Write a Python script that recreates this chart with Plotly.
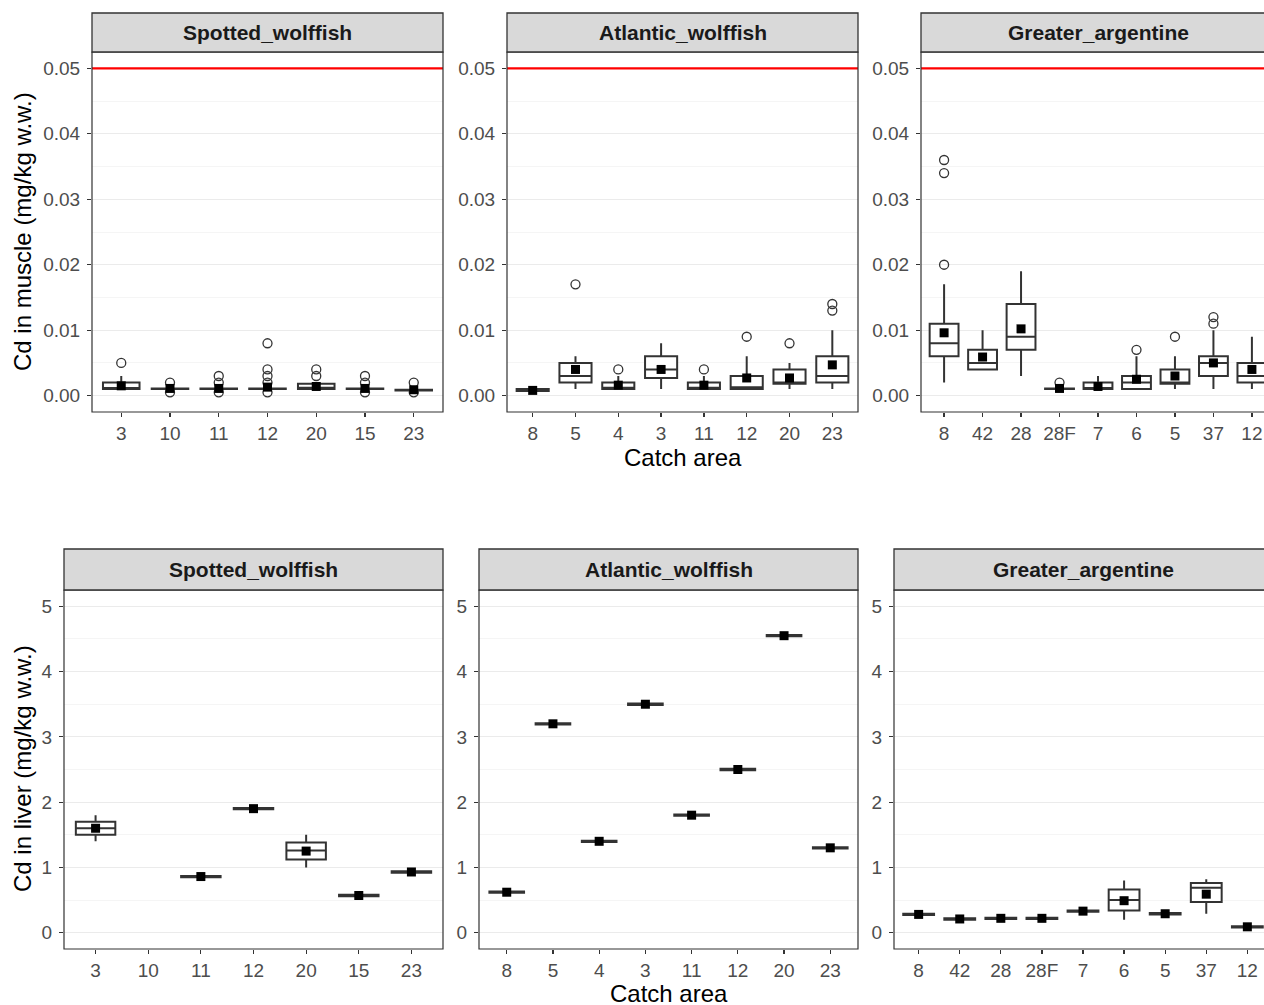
import plotly.graph_objects as go

# ---------------- DATA ----------------
SPECIES = ["Spotted_wolffish", "Atlantic_wolffish", "Greater_argentine"]

# Muscle: Spotted wolffish
SW_M_AREA = ["3", "10", "11", "12", "20", "15", "23"]
SW_M_Q1 = [0.001, 0.001, 0.001, 0.001, 0.001, 0.001, 0.0008]
SW_M_MED = [0.001, 0.001, 0.001, 0.001, 0.0012, 0.001, 0.0008]
SW_M_Q3 = [0.002, 0.0011, 0.0011, 0.0011, 0.0018, 0.0011, 0.0009]
SW_M_LO = [0.001, 0.001, 0.001, 0.001, 0.001, 0.001, 0.0008]
SW_M_HI = [0.003, 0.0011, 0.0011, 0.0011, 0.002, 0.0011, 0.0009]
SW_M_MEAN = [0.0015, 0.0011, 0.0011, 0.0013, 0.0014, 0.0011, 0.0009]
SW_M_OUT = [[0.005], [0.002, 0.0005], [0.003, 0.002, 0.0005],
            [0.008, 0.004, 0.003, 0.002, 0.0005], [0.004, 0.003],
            [0.003, 0.002, 0.0005], [0.002, 0.0005]]

# Muscle: Atlantic wolffish
AW_M_AREA = ["8", "5", "4", "3", "11", "12", "20", "23"]
AW_M_Q1 = [0.0007, 0.002, 0.001, 0.0027, 0.001, 0.001, 0.0018, 0.002]
AW_M_MED = [0.0008, 0.003, 0.0012, 0.004, 0.0012, 0.0013, 0.002, 0.003]
AW_M_Q3 = [0.001, 0.005, 0.002, 0.006, 0.002, 0.003, 0.004, 0.006]
AW_M_LO = [0.0007, 0.001, 0.001, 0.001, 0.001, 0.001, 0.001, 0.001]
AW_M_HI = [0.001, 0.006, 0.003, 0.008, 0.003, 0.006, 0.005, 0.010]
AW_M_MEAN = [0.0008, 0.004, 0.0016, 0.004, 0.0016, 0.0027, 0.0027, 0.0047]
AW_M_OUT = [[], [0.017], [0.004], [], [0.004], [0.009], [0.008], [0.014, 0.013]]

# Muscle: Greater argentine
GA_M_AREA = ["8", "42", "28", "28F", "7", "6", "5", "37", "12"]
GA_M_Q1 = [0.006, 0.004, 0.007, 0.001, 0.001, 0.001, 0.0018, 0.003, 0.002]
GA_M_MED = [0.008, 0.005, 0.009, 0.001, 0.001, 0.002, 0.002, 0.005, 0.003]
GA_M_Q3 = [0.011, 0.007, 0.014, 0.0011, 0.002, 0.003, 0.004, 0.006, 0.005]
GA_M_LO = [0.002, 0.004, 0.003, 0.001, 0.001, 0.001, 0.001, 0.001, 0.001]
GA_M_HI = [0.017, 0.010, 0.019, 0.0011, 0.003, 0.006, 0.006, 0.010, 0.009]
GA_M_MEAN = [0.0096, 0.0059, 0.0102, 0.0011, 0.0014, 0.0025, 0.003, 0.005, 0.004]
GA_M_OUT = [[0.036, 0.034, 0.020], [], [], [0.002], [], [0.007], [0.009],
            [0.012, 0.011], []]

# Liver: Spotted wolffish (no liver data for area 10)
SW_L_AREA = ["3", "10", "11", "12", "20", "15", "23"]
SW_L_Q1 = [1.5, None, 0.85, 1.89, 1.12, 0.56, 0.92]
SW_L_MED = [1.6, None, 0.86, 1.90, 1.26, 0.57, 0.93]
SW_L_Q3 = [1.7, None, 0.87, 1.91, 1.38, 0.58, 0.94]
SW_L_LO = [1.4, None, 0.85, 1.89, 1.0, 0.56, 0.92]
SW_L_HI = [1.8, None, 0.87, 1.91, 1.5, 0.58, 0.94]
SW_L_MEAN = [1.6, None, 0.86, 1.90, 1.25, 0.57, 0.93]

# Liver: Atlantic wolffish
AW_L_AREA = ["8", "5", "4", "3", "11", "12", "20", "23"]
AW_L_Q1 = [0.61, 3.19, 1.39, 3.49, 1.79, 2.49, 4.54, 1.29]
AW_L_MED = [0.62, 3.20, 1.40, 3.50, 1.80, 2.50, 4.55, 1.30]
AW_L_Q3 = [0.63, 3.21, 1.41, 3.51, 1.81, 2.51, 4.56, 1.31]
AW_L_LO = [0.61, 3.19, 1.39, 3.49, 1.79, 2.49, 4.54, 1.29]
AW_L_HI = [0.63, 3.21, 1.41, 3.51, 1.81, 2.51, 4.56, 1.31]
AW_L_MEAN = [0.62, 3.20, 1.40, 3.50, 1.80, 2.50, 4.55, 1.30]

# Liver: Greater argentine
GA_L_AREA = ["8", "42", "28", "28F", "7", "6", "5", "37", "12"]
GA_L_Q1 = [0.27, 0.20, 0.21, 0.21, 0.32, 0.34, 0.28, 0.47, 0.08]
GA_L_MED = [0.28, 0.21, 0.22, 0.22, 0.33, 0.50, 0.29, 0.69, 0.09]
GA_L_Q3 = [0.29, 0.22, 0.23, 0.23, 0.34, 0.66, 0.30, 0.76, 0.10]
GA_L_LO = [0.27, 0.20, 0.21, 0.21, 0.32, 0.20, 0.28, 0.29, 0.08]
GA_L_HI = [0.29, 0.22, 0.23, 0.23, 0.34, 0.80, 0.30, 0.82, 0.10]
GA_L_MEAN = [0.28, 0.21, 0.22, 0.22, 0.33, 0.49, 0.29, 0.59, 0.09]

MUSCLE_LIMIT = 0.05
Y_TITLE_MUSCLE = "Cd in muscle (mg/kg w.w.)"
Y_TITLE_LIVER = "Cd in liver (mg/kg w.w.)"
X_TITLE = "Catch area"

# ---------------- LAYOUT GEOMETRY (screen pixels) ----------------
W, H = 1264, 1005
FONT = "Liberation Sans, Arial, sans-serif"
DARK = "#333333"
TICKC = "#4D4D4D"


def px(x):
    return x / W


def py(y):
    return 1 - y / H


# panel: (left, right (full, may exceed view), top, bottom) in screen px
PANELS = [
    (92, 443, 52, 412), (507, 858, 52, 412), (921, 1275, 52, 412),
    (64, 443, 590, 949), (479, 858, 590, 949), (894, 1272, 590, 949),
]
STRIP_TOP = [13, 13, 13, 549, 549, 549]

panel_data = [
    (SW_M_AREA, SW_M_Q1, SW_M_MED, SW_M_Q3, SW_M_LO, SW_M_HI, SW_M_MEAN, SW_M_OUT),
    (AW_M_AREA, AW_M_Q1, AW_M_MED, AW_M_Q3, AW_M_LO, AW_M_HI, AW_M_MEAN, AW_M_OUT),
    (GA_M_AREA, GA_M_Q1, GA_M_MED, GA_M_Q3, GA_M_LO, GA_M_HI, GA_M_MEAN, GA_M_OUT),
    (SW_L_AREA, SW_L_Q1, SW_L_MED, SW_L_Q3, SW_L_LO, SW_L_HI, SW_L_MEAN, None),
    (AW_L_AREA, AW_L_Q1, AW_L_MED, AW_L_Q3, AW_L_LO, AW_L_HI, AW_L_MEAN, None),
    (GA_L_AREA, GA_L_Q1, GA_L_MED, GA_L_Q3, GA_L_LO, GA_L_HI, GA_L_MEAN, None),
]

fig = go.Figure()
layout = dict(
    width=W, height=H, margin=dict(l=0, r=0, t=0, b=0),
    paper_bgcolor="white", plot_bgcolor="white", showlegend=False,
    font=dict(family=FONT, color=TICKC),
)
shapes = []
annotations = []

for i, (pd_, geom) in enumerate(zip(panel_data, PANELS)):
    k = i + 1
    xa = "x" if k == 1 else f"x{k}"
    ya = "y" if k == 1 else f"y{k}"
    area, q1, med, q3, lo, hi, mean, out = pd_
    n = len(area)
    L, R, T, B = geom
    Rc = min(R, W)
    full_span = n + 0.2
    x_hi = -0.6 + full_span * (Rc - L) / (R - L)

    idx = [j for j in range(n) if q1[j] is not None]
    fig.add_trace(go.Scatter(x=area, y=[None] * n, mode="markers",
                             xaxis=xa, yaxis=ya, hoverinfo="skip"))
    fig.add_trace(go.Box(
        x=[area[j] for j in idx],
        q1=[q1[j] for j in idx], median=[med[j] for j in idx],
        q3=[q3[j] for j in idx], lowerfence=[lo[j] for j in idx],
        upperfence=[hi[j] for j in idx],
        boxpoints=False, width=0.75, whiskerwidth=0,
        fillcolor="white", line=dict(color=DARK, width=2),
        xaxis=xa, yaxis=ya, hoverinfo="skip",
    ))
    if out is not None:
        ox, oy = [], []
        for j in range(n):
            for v in out[j]:
                ox.append(area[j])
                oy.append(v)
        fig.add_trace(go.Scatter(
            x=ox, y=oy, mode="markers", xaxis=xa, yaxis=ya,
            marker=dict(symbol="circle-open", size=9, color=DARK,
                        line=dict(width=1.3, color=DARK)),
            hoverinfo="skip"))
    fig.add_trace(go.Scatter(
        x=[area[j] for j in idx], y=[mean[j] for j in idx], mode="markers",
        xaxis=xa, yaxis=ya,
        marker=dict(symbol="square", size=9, color="black"),
        hoverinfo="skip"))

    is_muscle = i < 3
    if is_muscle:
        yr, dt, mdt, fmt = [-0.0025, 0.0525], 0.01, 0.005, ".2f"
    else:
        yr, dt, mdt, fmt = [-0.25, 5.25], 1, 0.5, "d"

    layout["xaxis" if k == 1 else f"xaxis{k}"] = dict(
        domain=[px(L), min(px(Rc), 1.0)], anchor=ya, type="category",
        categoryorder="array", categoryarray=area, range=[-0.6, x_hi],
        showgrid=False, zeroline=False, showline=False,
        ticks="outside", ticklen=4, tickwidth=1.2, tickcolor=DARK,
        tickfont=dict(size=19, color=TICKC, family=FONT),
        ticklabelstandoff=0, fixedrange=True,
    )
    layout["yaxis" if k == 1 else f"yaxis{k}"] = dict(
        domain=[py(B), py(T)], anchor=xa, range=yr,
        tick0=0, dtick=dt, tickformat=fmt,
        showgrid=True, gridcolor="#EBEBEB", gridwidth=1.2,
        minor=dict(tick0=0, dtick=mdt, showgrid=True, gridcolor="#F3F3F3",
                   gridwidth=0.8),
        zeroline=False, showline=False,
        ticks="outside", ticklen=4, tickwidth=1.2, tickcolor=DARK,
        tickfont=dict(size=19, color=TICKC, family=FONT),
        ticklabelstandoff=3, fixedrange=True,
    )

    if is_muscle:
        shapes.append(dict(type="line", xref=f"{xa} domain", yref=ya,
                           x0=0, x1=1, y0=MUSCLE_LIMIT, y1=MUSCLE_LIMIT,
                           line=dict(color="#FF0000", width=2.2), layer="above"))
    shapes.append(dict(type="rect", xref="paper", yref="paper",
                       x0=px(L), x1=px(R), y0=py(B), y1=py(T),
                       line=dict(color=DARK, width=1.2), fillcolor="rgba(0,0,0,0)",
                       layer="above"))
    st = STRIP_TOP[i]
    shapes.append(dict(type="rect", xref="paper", yref="paper",
                       x0=px(L), x1=px(R), y0=py(T), y1=py(st),
                       line=dict(color=DARK, width=1.3), fillcolor="#D9D9D9",
                       layer="above"))
    annotations.append(dict(text=f"<b>{SPECIES[i % 3]}</b>", xref="paper", yref="paper",
                            x=px((L + R) / 2), y=py((st + T) / 2),
                            xanchor="center", yanchor="middle", showarrow=False,
                            font=dict(size=21, color="#1A1A1A", family=FONT)))

annotations.append(dict(text=Y_TITLE_MUSCLE, xref="paper", yref="paper",
                        x=px(22), y=py(232), textangle=-90, showarrow=False,
                        xanchor="center", yanchor="middle",
                        font=dict(size=24, color="black", family=FONT)))
annotations.append(dict(text=Y_TITLE_LIVER, xref="paper", yref="paper",
                        x=px(22), y=py(769), textangle=-90, showarrow=False,
                        xanchor="center", yanchor="middle",
                        font=dict(size=24, color="black", family=FONT)))
annotations.append(dict(text=X_TITLE, xref="paper", yref="paper",
                        x=px(682.5), y=py(458), showarrow=False,
                        xanchor="center", yanchor="middle",
                        font=dict(size=24, color="black", family=FONT)))
annotations.append(dict(text=X_TITLE, xref="paper", yref="paper",
                        x=px(668.5), y=py(993), showarrow=False,
                        xanchor="center", yanchor="middle",
                        font=dict(size=24, color="black", family=FONT)))

layout["shapes"] = shapes
layout["annotations"] = annotations
fig.update_layout(**layout)

# remove the browser's default page margin / scrollbars so the figure fills the window
PAGE_JS = ("document.documentElement.style.overflow='hidden';"
           "document.body.style.margin='0';document.body.style.overflow='hidden';")
fig.write_html("out.html", post_script=PAGE_JS,
               config={"displayModeBar": False, "staticPlot": True})
